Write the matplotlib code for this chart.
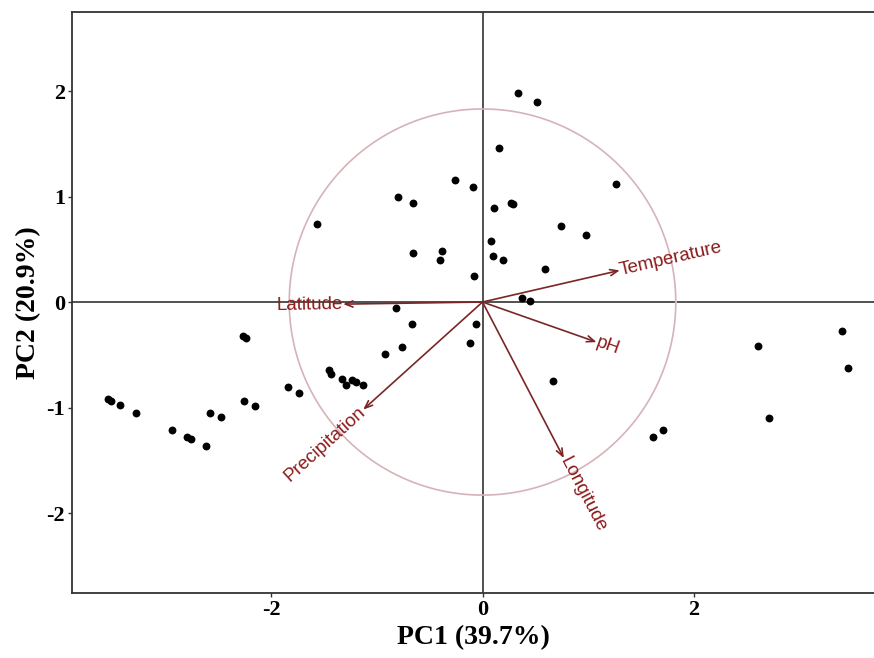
import matplotlib
matplotlib.use("Agg")
import matplotlib.pyplot as plt
import numpy as np

plt.rcParams['axes.unicode_minus'] = False

# Individual scores
pc1 = [-3.55, -3.52, -3.43, -3.28, -2.94, -2.80, -2.76, -2.62, -2.58, -2.48,
       -2.27, -2.24, -2.26, -2.15, -1.84, -1.74, -1.57, -1.45, -1.43, -1.33,
       -1.29, -1.24, -1.20, -1.13, -0.92, -0.82, -0.80, -0.76, -0.67, -0.66,
       -0.66, -0.40, -0.38, -0.26, -0.12, -0.09, -0.08, -0.06, 0.08, 0.10,
       0.11, 0.16, 0.19, 0.27, 0.29, 0.34, 0.37, 0.45, 0.52, 0.59,
       0.67, 0.74, 0.98, 1.26, 1.61, 1.71, 2.61, 2.71, 3.40, 3.46]
pc2 = [-0.92, -0.94, -0.98, -1.05, -1.21, -1.28, -1.30, -1.36, -1.05, -1.09,
       -0.32, -0.34, -0.94, -0.99, -0.81, -0.86, 0.74, -0.64, -0.68, -0.73,
       -0.79, -0.74, -0.76, -0.79, -0.49, -0.06, 1.00, -0.43, -0.21, 0.94,
       0.46, 0.40, 0.48, 1.16, -0.39, 1.09, 0.25, -0.21, 0.58, 0.44,
       0.89, 1.46, 0.40, 0.94, 0.93, 1.98, 0.04, 0.01, 1.90, 0.31,
       -0.75, 0.72, 0.64, 1.12, -1.28, -1.21, -0.42, -1.10, -0.27, -0.63]

# Variable loadings (arrow tips)
var_names = ["Temperature", "pH", "Longitude", "Precipitation", "Latitude"]
var_x = [1.30, 1.08, 0.77, -1.13, -1.32]
var_y = [0.30, -0.38, -1.48, -1.02, -0.02]
circle_radius = 1.83

W, H = 874, 658
fig = plt.figure(figsize=(W / 100, H / 100), dpi=100)
ax = fig.add_axes([72 / W, 1 - 593 / H, (874 - 72) / W, (593 - 12) / H])

ax.set_xlim(-3.887, 3.707)
ax.set_ylim(-2.758, 2.749)

axis_col = '#333333'
ax.axhline(0, color=axis_col, lw=1.2, zorder=1)
ax.axvline(0, color=axis_col, lw=1.2, zorder=1)

t = np.linspace(0, 2 * np.pi, 400)
ax.plot(circle_radius * np.cos(t), circle_radius * np.sin(t),
        color='#d6b3b8', lw=1.2, zorder=1)

ax.scatter(pc1, pc2, s=32, color='black', zorder=3, linewidths=0)

arrow_col = '#7a2626'
text_col = '#8b1a1a'
for name, vx, vy in zip(var_names, var_x, var_y):
    ax.annotate('', xy=(vx, vy), xytext=(0, 0),
                arrowprops=dict(arrowstyle='->,head_length=0.55,head_width=0.22',
                                color=arrow_col, lw=1.2, shrinkA=0, shrinkB=0),
                zorder=2)
    ang = np.degrees(np.arctan2(vy, vx))
    if vx >= 0:
        rot, ha = ang, 'left'
    else:
        rot, ha = ang + 180, 'right'
    ax.text(vx, vy, name, rotation=rot, rotation_mode='anchor', ha=ha,
            va='center', color=text_col, fontsize=13.5,
            family=['Liberation Sans', 'DejaVu Sans'], zorder=4)

ax.set_xticks([-2, 0, 2])
ax.set_yticks([-2, -1, 0, 1, 2])
ax.set_xticklabels(['-2', '0', '2'])
ax.set_yticklabels(['-2', '-1', '0', '1', '2'])
for lab in ax.get_xticklabels() + ax.get_yticklabels():
    lab.set_fontfamily(['Liberation Serif', 'DejaVu Serif'])
    lab.set_fontweight('bold')
    lab.set_fontsize(16)
ax.tick_params(axis='both', length=3, width=1, color=axis_col, pad=2)

for side in ['left', 'bottom', 'top']:
    ax.spines[side].set_color(axis_col)
    ax.spines[side].set_linewidth(1.3)
ax.spines['right'].set_visible(False)

ax.set_xlabel('PC1 (39.7%)', fontsize=20, fontweight='bold',
              family=['Liberation Serif', 'DejaVu Serif'], labelpad=4)
ax.set_ylabel('PC2 (20.9%)', fontsize=20, fontweight='bold',
              family=['Liberation Serif', 'DejaVu Serif'], labelpad=4)

fig.savefig('out.png', dpi=100)
